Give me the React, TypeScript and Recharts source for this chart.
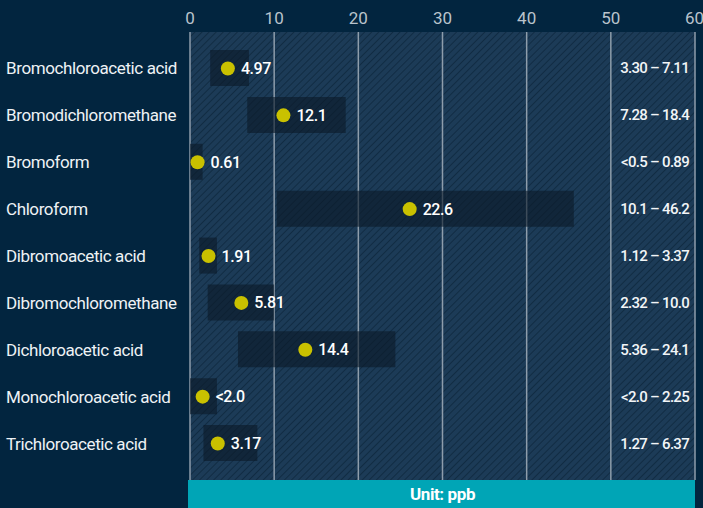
import {
  Bar,
  CartesianGrid,
  ComposedChart,
  LabelList,
  Line,
  XAxis,
  YAxis,
} from "recharts";

const categories = [
  "Bromochloroacetic acid",
  "Bromodichloromethane",
  "Bromoform",
  "Chloroform",
  "Dibromoacetic acid",
  "Dibromochloromethane",
  "Dichloroacetic acid",
  "Monochloroacetic acid",
  "Trichloroacetic acid",
];
const rangeLow = [2.4, 6.8, 0, 10.3, 1.1, 2.1, 5.7, 0, 1.6];
const rangeHigh = [7.0, 18.5, 1.5, 45.6, 3.2, 10.0, 24.4, 3.2, 8.0];
const dotValues = [4.5, 11.1, 0.9, 26.1, 2.2, 6.1, 13.7, 1.5, 3.3];
const dotLabels = ["4.97", "12.1", "0.61", "22.6", "1.91", "5.81", "14.4", "<2.0", "3.17"];
const rangeLabels = [
  "3.30 – 7.11",
  "7.28 – 18.4",
  "<0.5 – 0.89",
  "10.1 – 46.2",
  "1.12 – 3.37",
  "2.32 – 10.0",
  "5.36 – 24.1",
  "<2.0 – 2.25",
  "1.27 – 6.37",
];
const xTicks = [0, 10, 20, 30, 40, 50, 60];
const unitText = "Unit: ppb";

const data = categories.map((name, i) => ({
  name,
  range: [rangeLow[i], rangeHigh[i]],
  dot: dotValues[i],
  dotLabel: dotLabels[i],
  rangeText: rangeLabels[i],
}));

const FONT = "Roboto, 'Liberation Sans', sans-serif";

function LeftTick(props: any) {
  const { y, payload } = props;
  return (
    <text
      x={6}
      y={y}
      dominantBaseline="central"
      fill="#eef2f5"
      fontSize={17}
      letterSpacing={-0.4}
      fontFamily={FONT}
    >
      {payload.value}
    </text>
  );
}

function RightTick(props: any) {
  const { x, y, payload } = props;
  return (
    <text
      x={x - 6}
      y={y}
      textAnchor="end"
      dominantBaseline="central"
      fill="#f2f5f7"
      fontSize={15}
      fontWeight={500}
      letterSpacing={-0.7}
      fontFamily={FONT}
    >
      {payload.value}
    </text>
  );
}

function UnitBar(props: any) {
  const vb = props.viewBox || {};
  return (
    <g>
      <rect x={vb.x - 2} y={vb.y} width={vb.width + 2} height={vb.height} fill="#00a5b6" />
      <text
        x={vb.x + vb.width / 2}
        y={vb.y + vb.height / 2}
        textAnchor="middle"
        dominantBaseline="central"
        fill="#ffffff"
        fontSize={17}
        fontWeight={700}
        letterSpacing={-0.4}
        fontFamily={FONT}
      >
        {unitText}
      </text>
    </g>
  );
}

function DotLabel(props: any) {
  const { x, y, value } = props;
  return (
    <text
      x={x + 13}
      y={y}
      dominantBaseline="central"
      fill="#ffffff"
      fontSize={16}
      fontWeight={500}
      letterSpacing={-0.4}
      fontFamily={FONT}
    >
      {value}
    </text>
  );
}

export default function App() {
  return (
    <div style={{ position: "absolute", left: 0, top: 0, width: 703, height: 508, background: "#02253f" }}>
      <ComposedChart
        width={703}
        height={508}
        data={data}
        layout="vertical"
        margin={{ top: 0, right: 0, bottom: 0, left: 0 }}
      >
        <defs>
          <pattern id="hatch" width="5" height="5" patternUnits="userSpaceOnUse" patternTransform="rotate(45)">
            <rect width="5" height="5" fill="#1c3b57" />
            <line x1="0" y1="0" x2="0" y2="5" stroke="#112c43" strokeWidth="2" />
          </pattern>
        </defs>
        <CartesianGrid
          horizontal={false}
          stroke="#8e9dab"
          strokeWidth={1.5}
          fill="url(#hatch)"
          fillOpacity={1}
        />
        <XAxis
          type="number"
          orientation="top"
          domain={[0, 60]}
          ticks={xTicks}
          height={32}
          axisLine={false}
          tickLine={false}
          tick={{ fill: "#b9c3cc", fontSize: 17, fontFamily: FONT }}
        />
        <XAxis
          xAxisId="unit"
          type="number"
          orientation="bottom"
          domain={[0, 60]}
          height={28}
          axisLine={false}
          tickLine={false}
          tick={false}
          label={{ content: UnitBar }}
        />
        <YAxis
          type="category"
          dataKey="name"
          width={190}
          axisLine={false}
          tickLine={false}
          padding={{ top: 13, bottom: 13 }}
          tick={LeftTick}
          interval={0}
        />
        <YAxis
          yAxisId="r"
          type="category"
          dataKey="rangeText"
          orientation="right"
          width={8}
          axisLine={false}
          tickLine={false}
          tickSize={0}
          tickMargin={0}
          padding={{ top: 13, bottom: 13 }}
          interval={0}
          tick={RightTick}
        />
        <Bar dataKey="range" barSize={36} fill="#0b1a28" fillOpacity={0.62} isAnimationActive={false} />
        <Line
          yAxisId="r"
          dataKey="dot"
          stroke="none"
          dot={{ r: 7, fill: "#c9c100", stroke: "none" }}
          activeDot={false}
          isAnimationActive={false}
        >
          <LabelList dataKey="dotLabel" content={DotLabel} />
        </Line>
      </ComposedChart>
    </div>
  );
}
